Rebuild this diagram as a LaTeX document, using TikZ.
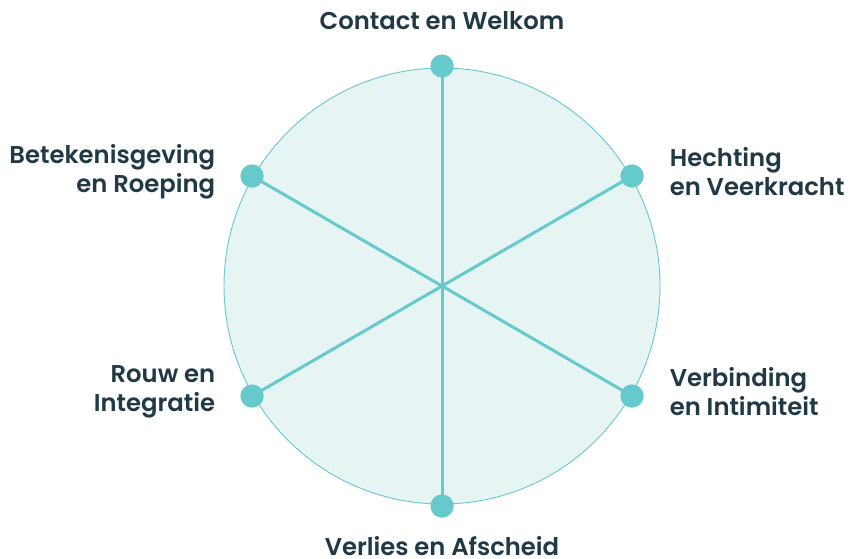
\documentclass[tikz,border=0pt]{standalone}
\usepackage{fontspec}
\setmainfont{Poppins}[BoldFont={Poppins SemiBold}]
\usetikzlibrary{positioning}
\definecolor{teal}{HTML}{66C9CB}
\definecolor{tealfill}{HTML}{E6F4F4}
\definecolor{ink}{HTML}{213944}

\begin{document}
\begin{tikzpicture}[x=1pt, y=-1pt,
        D/.style={circle, fill=teal, inner sep=0pt, minimum size=23pt},
        L/.style={font=\fontsize{24.3}{29}\selectfont\bfseries, text=ink, inner sep=0pt, align=#1},
        L/.default=center,
        spoke/.style={draw=teal, line width=3pt},
        node distance=0pt and 19pt
    ]
    \useasboundingbox (0,0) rectangle (848,559);
    \coordinate (c) at (442,286);
    \fill[tealfill] (c) circle (218pt);
    \draw[teal, line width=0.9pt] (c) circle (218pt);

    \node[D] (top)  at (442,66)  {};
    \node[D] (bot)  at (442,506) {};
    \node[D] (ltop) at (252,176) {};
    \node[D] (rtop) at (632,176) {};
    \node[D] (lbot) at (252,396) {};
    \node[D] (rbot) at (632,396) {};

    \draw[spoke] (top.center) -- (bot.center);
    \draw[spoke] (ltop.center) -- (rbot.center);
    \draw[spoke] (rtop.center) -- (lbot.center);
    \foreach \d in {top,bot,ltop,rtop,lbot,rbot} \node[D] at (\d) {};

    \node[L=right]  (ltop-l) [left=25pt of ltop, yshift=4pt]  {Betekenisgeving\\en Roeping};
    \node[L=left]   (rtop-l) [right=26pt of rtop, yshift=4pt] {Hechting\\en Veerkracht};
    \node[L=right]  (lbot-l) [left=25pt of lbot, yshift=4pt]  {Rouw en\\Integratie};
    \node[L=left]   (rbot-l) [right=26pt of rbot, yshift=4pt] {Verbinding\\en Intimiteit};
    \node[L]        (top-l)  at (442,21)  {Contact en Welkom};
    \node[L]        (bot-l)  at (442,546) {Verlies en Afscheid};
\end{tikzpicture}
\end{document}
